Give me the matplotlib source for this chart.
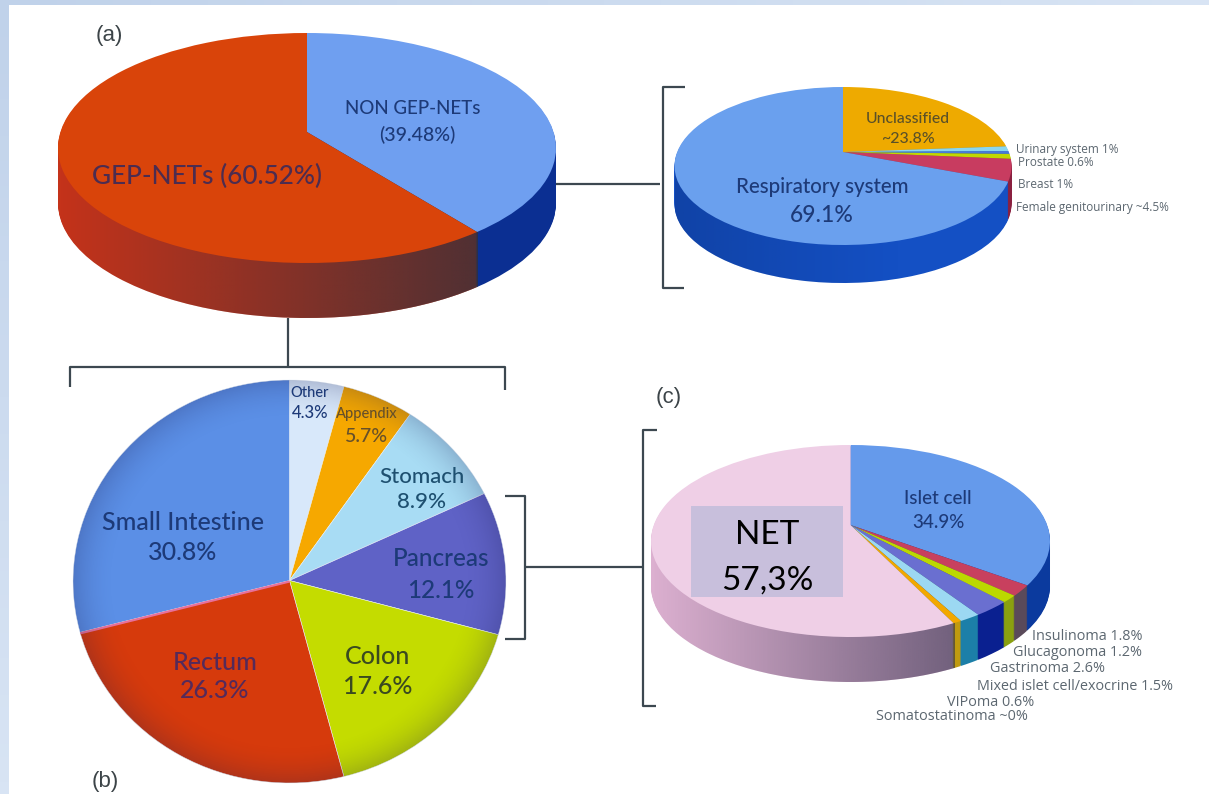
import numpy as np
import matplotlib
matplotlib.use('Agg')
import matplotlib.pyplot as plt
from matplotlib.patches import Polygon, Ellipse
from matplotlib.transforms import Transform

# (a) all NETs
a_values = [39.48, 60.52]
a_top = ['#6f9ff0', '#d9440a']
a_side = ['#0b2f92', '#c4331a']

# (a, right) non GEP-NETs
c_values = [23.8, 1, 0.6, 1, 4.5, 69.1]
c_top = ['#eeaa00', '#8ad6f0', '#4a7ad8', '#c2d800', '#c83c60', '#6aa0ee']
c_side = ['#b08000', '#1a80a8', '#0b3a9e', '#8aa010', '#8a2040', '#1450c4']

# (b) GEP-NETs, in drawing order from 12 o'clock
b_names = ['Other', 'Appendix', 'Stomach', 'Pancreas', 'Colon', 'Rectum', 'Small Intestine']
b_values = [4.3, 5.7, 8.9, 12.1, 17.6, 26.3, 30.8]
b_top = ['#d8e8fa', '#f6a800', '#a8dcf4', '#5f62c6', '#c4dc00', '#d63a0c', '#5b8fe6']

# (c) pancreas
d_names = ['Islet cell', 'Insulinoma', 'Glucagonoma', 'Gastrinoma', 'Mixed islet cell/exocrine',
           'VIPoma', 'Somatostatinoma', 'NET']
d_values = [34.9, 1.8, 1.2, 2.6, 1.5, 0.6, 0, 57.3]
d_top = ['#659aeb', '#c8405e', '#bcd800', '#6a6fd0', '#9cd8f2', '#f2a800', '#f2a800', '#efcfe6']
d_side = ['#0b3a9e', '#5a4a5a', '#8aa010', '#0a2090', '#1c7fa8', '#c09a10', '#c09a10', '#dcb0d0']


class Tilt(Transform):
    # projective map of the unit circle to a tilted disc, in picture pixels
    input_dims = 2
    output_dims = 2

    def __init__(self, cx, cy, rx, ry, d, drop=0):
        super().__init__()
        self.cx, self.cy, self.rx, self.ry, self.d, self.drop = cx, cy, rx, ry, d, drop

    def transform_non_affine(self, values):
        values = np.asarray(values)
        x, y = values[:, 0], values[:, 1]
        k = self.d / self.ry
        w = 1 + k * y
        px = self.cx + self.rx * np.sqrt(1 - k ** 2) * x / w
        py = self.cy + self.drop - (self.ry * y + self.d) / w
        return np.column_stack([px, py])


fig = plt.figure(figsize=(12.09, 7.94), dpi=100, facecolor='white')
ax = fig.add_axes([0, 0, 1, 1])


def tilted_pie(values, top, side, cx, cy, rx, ry, d, depth, ramp=None):
    if side is not None:
        for drop in range(depth, 0, -1):
            wedges, _ = ax.pie(values, colors=side, startangle=90, counterclock=False,
                               wedgeprops={'linewidth': 0, 'zorder': 1})
            for w in wedges:
                w.set_transform(Tilt(cx, cy, rx, ry, d, drop) + ax.transData)
    if ramp is not None:
        # darkening of the wall from left to right, (colour, alpha start, alpha end, right end)
        colour, a0, a1, xend = ramp
        shade = np.zeros((1, 256, 4))
        shade[..., :3] = matplotlib.colors.to_rgb(colour)
        shade[..., 3] = np.linspace(a0, a1, 256)
        im = ax.imshow(shade, extent=(cx - rx, xend, cy + ry + depth + 2, cy), aspect='auto',
                       interpolation='bilinear', zorder=1.5)
        t = np.linspace(np.pi, 2 * np.pi, 80)
        wall = np.column_stack([cx + rx * np.cos(t), cy + depth - ry * np.sin(t)])
        wall = np.vstack([wall, [[cx + rx, cy], [cx - rx, cy]]])
        im.set_clip_path(Polygon(wall, closed=True, transform=ax.transData))
    wedges, _ = ax.pie(values, colors=top, startangle=90, counterclock=False,
                       wedgeprops={'linewidth': 0, 'zorder': 2})
    for w in wedges:
        w.set_transform(Tilt(cx, cy, rx, ry, d) + ax.transData)
    return wedges


tilted_pie(a_values, a_top, a_side, 307, 148, 249, 115, 16, 55, ramp=('#33303a', 0.0, 0.8, 478))
tilted_pie(c_values, c_top, c_side, 843, 166, 168.5, 79, 14, 38, ramp=('#0a2a70', 0.35, 0.0, 900))
tilted_pie(d_values, d_top, d_side, 850.5, 541, 199.5, 96, 16, 45, ramp=('#30304a', 0.0, 0.62, 955))

bx, by, brx, bry = 289.5, 581.5, 216.5, 201.5
b_wedges = tilted_pie(b_values, b_top, None, bx, by, brx, bry, 1, 0)
for w in b_wedges:
    w.set_edgecolor('#e8f0f8')
    w.set_linewidth(0.4)

# pink seam between rectum and small intestine
seam = 2 * np.pi * sum(b_values[:-1]) / sum(b_values)
ax.plot([bx, bx + brx * np.sin(seam)], [by, by - bry * np.cos(seam)], color='#e8709a', lw=1.6,
        solid_capstyle='butt', zorder=2.2)

# darker rim of the flat pie
yy, xx = np.mgrid[-1:1:300j, -1:1:300j]
rr = np.hypot(xx, yy)
rim = np.zeros((300, 300, 4))
rim[..., :3] = matplotlib.colors.to_rgb('#1a1a50')
rim[..., 3] = 0.2 * np.clip((rr - 0.8) / 0.2, 0, 1) ** 2
rim_im = ax.imshow(rim, extent=(bx - brx, bx + brx, by + bry, by - bry), aspect='auto',
                   interpolation='bilinear', zorder=2.3)
rim_im.set_clip_path(Ellipse((bx, by), 2 * brx, 2 * bry, transform=ax.transData))

# brackets and connector lines
line = {'color': '#3c4850', 'lw': 1.6, 'solid_capstyle': 'butt', 'zorder': 1.8}
ax.plot([556, 660], [184, 184], **line)
ax.plot([685, 662.5, 662.5, 684], [87, 87, 288, 288], **line)
ax.plot([288, 288], [318, 367], **line)
ax.plot([70, 70, 505, 505], [387, 367, 367, 390], **line)
ax.plot([505, 525, 525, 505], [496, 496, 639, 639], **line)
ax.plot([525, 642], [567, 567], **line)
ax.plot([657, 642.5, 642.5, 656], [430, 430, 706, 706], **line)

# note box pasted over the NET slice
ax.fill_between([691, 843], 506, 597, color='#c8bfdc', lw=0, zorder=2.5)

# light blue strips of the slide background
left_strip = np.linspace(0, 1, 64).reshape(-1, 1)
top_strip = np.linspace(0, 1, 64).reshape(1, -1)
cmap = matplotlib.colors.LinearSegmentedColormap.from_list('strip', ['#c0d2ea', '#d8e4f4'])
ax.imshow(left_strip, cmap=cmap, extent=(0, 9, 794, 0), aspect='auto', zorder=0.5)
ax.imshow(top_strip, cmap=cmap, extent=(0, 1209, 5, 0), aspect='auto', zorder=0.5)

# text
navy = '#1d3a78'
gray = '#5c6770'
labels = [
    (413, 108, 'NON GEP-NETs', 13.5, navy),
    (417, 135, '(39.48%)', 14, navy),
    (207, 176, 'GEP-NETs (60.52%)', 18.8, '#4c2c50'),
    (822, 187, 'Respiratory system', 14.8, navy),
    (822, 215, '69.1%', 16.5, navy),
    (908, 119, 'Unclassified', 11.3, '#5a5028'),
    (908, 139, '~23.8%', 11.5, '#5a5028'),
    (183, 522, 'Small Intestine', 18, navy),
    (183, 552, '30.8%', 18, navy),
    (215, 662, 'Rectum', 18, '#552a5a'),
    (215, 691, '26.3%', 18, '#552a5a'),
    (378, 657, 'Colon', 18, '#3a4a20'),
    (378, 687, '17.6%', 18, '#3a4a20'),
    (441, 559, 'Pancreas', 17.5, navy),
    (441, 590, '12.1%', 17.5, navy),
    (422, 477, 'Stomach', 16, '#1e5070'),
    (422, 502, '8.9%', 16, '#1e5070'),
    (367, 414, 'Appendix', 10.5, '#66502a'),
    (367, 437, '5.7%', 14, '#66502a'),
    (310, 393, 'Other', 10.5, navy),
    (310, 413, '4.3%', 12, navy),
    (938, 499, 'Islet cell', 13.5, navy),
    (938, 522, '34.9%', 13.5, navy),
]
for x, y, s, size, col in labels:
    ax.text(x, y, s, ha='center', va='center', fontsize=size, color=col, family='Lato',
            fontweight='medium', zorder=3)

small_c = [
    (1016, 149, 'Urinary system 1%'),
    (1018, 163, 'Prostate 0.6%'),
    (1018, 185, 'Breast 1%'),
    (1016, 207, 'Female genitourinary ~4.5%'),
]
small_d = [
    (1032, 636, 'Insulinoma 1.8%'),
    (1013, 653, 'Glucagonoma 1.2%'),
    (990, 669, 'Gastrinoma 2.6%'),
    (977, 686, 'Mixed islet cell/exocrine 1.5%'),
    (947, 702, 'VIPoma 0.6%'),
    (876, 717, 'Somatostatinoma ~0%'),
]
for x, y, s in small_c:
    ax.text(x, y, s, ha='left', va='center', fontsize=8.5, color=gray, family='Open Sans', zorder=3)
for x, y, s in small_d:
    ax.text(x, y, s, ha='left', va='center', fontsize=10.4, color=gray, family='Open Sans', zorder=3)

for x, y, s in [(109, 36, '(a)'), (105, 781, '(b)'), (669, 397, '(c)')]:
    ax.text(x, y, s, ha='center', va='center', fontsize=16, color='#3c4448',
            family='Liberation Sans', zorder=3)

ax.text(767, 535, 'NET', ha='center', va='center', fontsize=24, color='black', family='Lato', zorder=3)
ax.text(767, 581, '57,3%', ha='center', va='center', fontsize=24, color='black', family='Lato', zorder=3)

ax.set_aspect('auto')
ax.set_xlim(0, 1209)
ax.set_ylim(794, 0)
ax.axis('off')

fig.savefig('out.png', dpi=100)
